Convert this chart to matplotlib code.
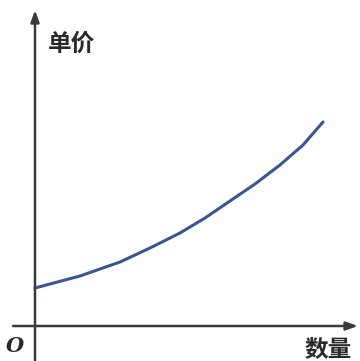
import matplotlib.pyplot as plt

plt.rcParams['font.family'] = ['Noto Sans CJK SC', 'DejaVu Sans']

# 曲线上的点(以原点为起点, 像素读数)
qty = [0, 45, 85, 115, 145, 170, 195, 220, 245, 268, 288]
price = [38, 50, 64, 78, 93, 108, 125, 142, 161, 181, 204]

fig = plt.figure(figsize=(3.6, 3.61), dpi=100)
ax = fig.add_axes([0, 0, 1, 1])
ax.set_xlim(-35, 325)
ax.set_ylim(-35, 326)
ax.axis('off')

# 坐标轴(带箭头)
arrow = dict(arrowstyle='-|>,head_length=0.7,head_width=0.25', color='#3a3a3a', lw=1.8,
             shrinkA=0, shrinkB=0)
ax.annotate('', xy=(0, 316), xytext=(0, -35), arrowprops=arrow)
ax.annotate('', xy=(323, 0), xytext=(-22, 0), arrowprops=arrow)

ax.plot(qty, price, color='#3b5592', linewidth=2.2, solid_capstyle='round',
        solid_joinstyle='round')

ax.text(13, 282, '单价', fontsize=17, fontweight='bold', color='#2a2a2a', va='center')
ax.text(293, -24, '数量', fontsize=17, fontweight='bold', color='#2a2a2a', ha='center', va='center')
ax.text(-20, -20, 'O', fontsize=15, fontstyle='italic', fontweight='bold',
        family='DejaVu Serif', color='#2a2a2a', ha='center', va='center')

fig.savefig('out.png', dpi=100)
